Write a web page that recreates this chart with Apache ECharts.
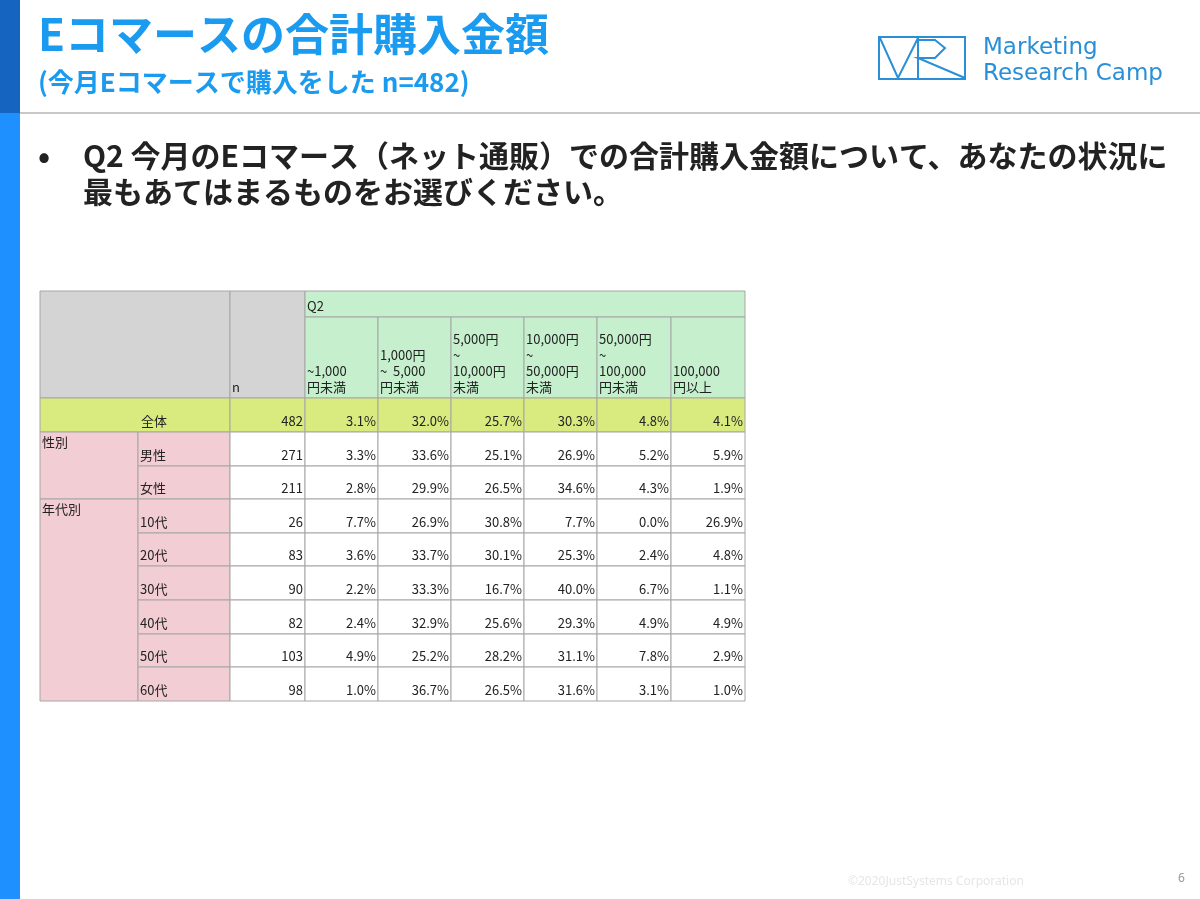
<!DOCTYPE html>
<html><head><meta charset="utf-8">
<script src="https://cdn.jsdelivr.net/npm/echarts@6/dist/echarts.min.js"></script>
<style>html,body{margin:0;padding:0;background:#fff}#c{width:1200px;height:899px}</style>
</head><body><div id="c"></div>
<script>
const columns = ['~1,000\n円未満','1,000円\n~  5,000\n円未満','5,000円\n~\n10,000円\n未満','10,000円\n~\n50,000円\n未満','50,000円\n~\n100,000\n円未満','100,000\n円以上'];
const groups = ['性別','年代別'];
const rowLabels = ['男性','女性','10代','20代','30代','40代','50代','60代'];
const rowGroup = [0,0,1,1,1,1,1,1];
const totalN = 482;
const totalValues = [3.1,32.0,25.7,30.3,4.8,4.1];
const rowN = [271,211,26,83,90,82,103,98];
const v1000 = [3.3,2.8,7.7,3.6,2.2,2.4,4.9,1.0];
const v5000 = [33.6,29.9,26.9,33.7,33.3,32.9,25.2,36.7];
const v10000 = [25.1,26.5,30.8,30.1,16.7,25.6,28.2,26.5];
const v50000 = [26.9,34.6,7.7,25.3,40.0,29.3,31.1,31.6];
const v100000 = [5.2,4.3,0.0,2.4,6.7,4.9,7.8,3.1];
const vOver = [5.9,1.9,26.9,4.8,1.1,4.9,2.9,1.0];

const colEdges = [0,98,190,265,338,411,484,557,631,705];
const rowEdges = [0,26,107,141,175,208,242,275,309,343,376,410];
const C = {gray:'#d4d4d4',green:'#c6efce',yellow:'#d9ea7f',pink:'#f2cdd3',white:'#ffffff'};

const cells = [];
function cell(c0,c1,r0,r1,text,fill,align,valign){cells.push([colEdges[c0],colEdges[c1],rowEdges[r0],rowEdges[r1],text,fill,align||'left',valign||'bottom']);}
cell(0,2,0,2,'',C.gray);
cell(2,3,0,2,'n',C.gray);
cell(3,9,0,1,'Q2',C.green);
columns.forEach((t,i)=>cell(3+i,4+i,1,2,t,C.green));
cell(0,2,2,3,'',C.yellow);
cells.push([colEdges[0],colEdges[2],rowEdges[2],rowEdges[3],'全体',null,'center','bottom']);
cell(2,3,2,3,String(totalN),C.yellow,'right');
totalValues.forEach((v,i)=>cell(3+i,4+i,2,3,v.toFixed(1)+'%',C.yellow,'right'));
groups.forEach((g,gi)=>{
  const idx = rowGroup.map((x,i)=>x===gi?i:-1).filter(i=>i>=0);
  cell(0,1,3+idx[0],4+idx[idx.length-1],g,C.pink,'left','top');
});
const series = [v1000,v5000,v10000,v50000,v100000,vOver];
rowLabels.forEach((l,i)=>{
  cell(1,2,3+i,4+i,l,C.pink,'left');
  cell(2,3,3+i,4+i,String(rowN[i]),C.white,'right');
  series.forEach((s,j)=>cell(3+j,4+j,3+i,4+i,s[i].toFixed(1)+'%',C.white,'right'));
});

const chart = echarts.init(document.getElementById('c'));
chart.setOption({
  animation:false,
  grid:{left:40,top:291,width:705,height:410},
  xAxis:{type:'value',min:0,max:705,show:false},
  yAxis:{type:'value',min:0,max:410,inverse:true,show:false},
  series:[{
    type:'custom',coordinateSystem:'cartesian2d',data:cells,
    encode:{x:[0,1],y:[2,3]},
    renderItem:function(params,api){
      const p0=api.coord([api.value(0),api.value(2)]);
      const p1=api.coord([api.value(1),api.value(3)]);
      const d=cells[params.dataIndex];
      const w=p1[0]-p0[0],h=p1[1]-p0[1];
      const ch=[];
      if(d[5]) ch.push({type:'rect',shape:{x:p0[0],y:p0[1],width:w,height:h},style:{fill:d[5],stroke:'#a6a6a6',lineWidth:1}});
      if(d[4]){
        let tx=p0[0]+2, align='left';
        if(d[6]==='right'){tx=p1[0]-2;align='right';}
        if(d[6]==='center'){tx=p0[0]+w*0.6;align='center';}
        const top=d[7]==='top';
        ch.push({type:'text',style:{text:d[4],x:tx,y:top?p0[1]+2:p1[1]-3,align:align,verticalAlign:top?'top':'bottom',
          font:'13px "Noto Sans CJK JP"',fill:'#222',lineHeight:16}});
      }
      return {type:'group',children:ch};
    }
  }],
  graphic:[
    {type:'rect',shape:{x:0,y:0,width:20,height:113},style:{fill:'#1565c0'}},
    {type:'rect',shape:{x:0,y:113,width:20,height:786},style:{fill:'#1e90ff'}},
    {type:'rect',shape:{x:20,y:112,width:1180,height:2},style:{fill:'#c8c8c8'}},
    {type:'text',style:{text:'Eコマースの合計購入金額',x:38,y:12,font:'bold 44px "Noto Sans CJK JP"',fill:'#1a9bf0'}},
    {type:'text',style:{text:'(今月Eコマースで購入をした n=482)',x:38,y:69,font:'bold 26px "Noto Sans CJK JP"',fill:'#1a9bf0'}},
    {type:'text',style:{text:'•',x:38,y:140,font:'bold 32px "Noto Sans CJK JP"',fill:'#222'}},
    {type:'text',style:{text:'Q2 今月のEコマース（ネット通販）での合計購入金額について、あなたの状況に\n最もあてはまるものをお選びください。',x:83,y:138,font:'bold 30px "Noto Sans CJK JP"',fill:'#222',lineHeight:36}},
    {type:'rect',shape:{x:879,y:37,width:86,height:42},style:{fill:'none',stroke:'#2a8fd6',lineWidth:2}},
    {type:'polyline',shape:{points:[[880,38],[898,78],[918,38]]},style:{fill:'none',stroke:'#2a8fd6',lineWidth:2}},
    {type:'polyline',shape:{points:[[918,38],[918,78]]},style:{fill:'none',stroke:'#2a8fd6',lineWidth:2}},
    {type:'polyline',shape:{points:[[918,40],[935,40],[945,48],[935,58],[918,58],[965,78]]},style:{fill:'none',stroke:'#2a8fd6',lineWidth:2}},
    {type:'text',style:{text:'Marketing\nResearch Camp',x:983,y:35,font:'23px "DejaVu Sans"',fill:'#2a8fd6',lineHeight:26}},
    {type:'text',style:{text:'©2020JustSystems Corporation',x:848,y:876,font:'12px "Noto Sans"',fill:'#e6e6e6'}},
    {type:'text',style:{text:'6',x:1178,y:873,font:'12px "Noto Sans"',fill:'#999'}}
  ]
});
</script></body></html>
